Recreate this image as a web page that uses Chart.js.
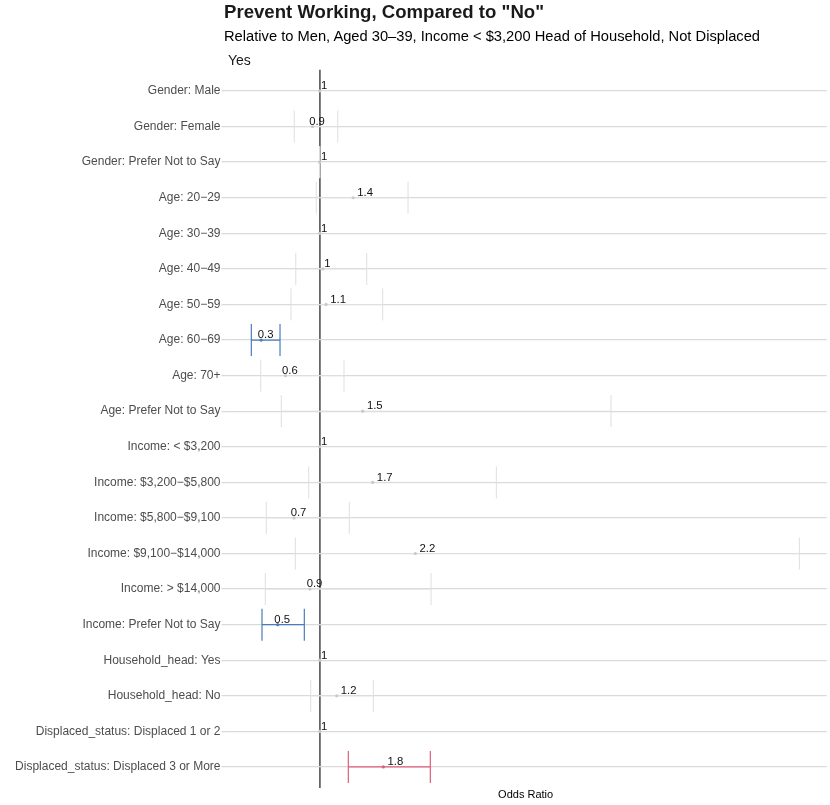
<!DOCTYPE html>
<html><head><meta charset="utf-8">
<script src="https://cdn.jsdelivr.net/npm/chart.js@4.4.1/dist/chart.umd.min.js"></script>
<style>
html,body{margin:0;padding:0;background:#fff;}
#wrap{position:relative;width:830px;height:805px;font-family:"Liberation Sans",Arial,Helvetica,sans-serif;}
#c{position:absolute;left:0;top:0;}
.t{position:absolute;white-space:nowrap;color:#000;}
</style></head><body>
<div id="wrap">
<canvas id="c" width="830" height="805"></canvas>
<div class="t" style="left:224px;top:3px;font-size:18.6px;line-height:18px;font-weight:bold;color:#1a1a1a;">Prevent Working, Compared to "No"</div>
<div class="t" style="left:224px;top:29px;font-size:14.7px;line-height:14px;">Relative to Men, Aged 30–39, Income &lt; $3,200 Head of Household, Not Displaced</div>
<div class="t" style="left:228px;top:53px;font-size:14px;line-height:14px;color:#1a1a1a;">Yes</div>
</div>
<script>
const categories = [
  "Gender: Male", "Gender: Female", "Gender: Prefer Not to Say",
  "Age: 20\u221229", "Age: 30\u221239", "Age: 40\u221249", "Age: 50\u221259", "Age: 60\u221269", "Age: 70+", "Age: Prefer Not to Say",
  "Income: < $3,200", "Income: $3,200\u2212$5,800", "Income: $5,800\u2212$9,100", "Income: $9,100\u2212$14,000", "Income: > $14,000", "Income: Prefer Not to Say",
  "Household_head: Yes", "Household_head: No",
  "Displaced_status: Displaced 1 or 2", "Displaced_status: Displaced 3 or More"
];
const estimates = [1, 0.91, 1, 1.42, 1, 1.04, 1.08, 0.265, 0.57, 1.54, 1, 1.665, 0.678, 2.2, 0.878, 0.473, 1, 1.213, 1, 1.798];
const lowerCI  = [null, 0.681, 1, 0.957, null, 0.70, 0.64, 0.142, 0.26, 0.518, null, 0.862, 0.33, 0.694, 0.317, 0.276, null, 0.887, null, 1.359];
const upperCI  = [null, 1.226, 1, 2.108, null, 1.59, 1.79, 0.502, 1.305, 4.655, null, 3.216, 1.371, 7.018, 2.397, 0.807, null, 1.673, null, 2.388];
const referenceValue = 1;

const BLUE = '#4a7cbd', RED = '#dd5f7d', GRAY_BAR = '#dfdfdf', GRAY_PT = '#c9c9c9';
function rowColor(i){
  if (upperCI[i] !== null && upperCI[i] < referenceValue) return BLUE;
  if (lowerCI[i] !== null && lowerCI[i] > referenceValue) return RED;
  return null;
}

const FONT = '"Liberation Sans", Arial, Helvetica, sans-serif';
Chart.defaults.font.family = FONT;

const datasets = [];
datasets.push({
  type: 'scatter',
  data: estimates.map((e, i) => ({x: e, y: i})),
  pointRadius: 1.6,
  pointBorderWidth: 0,
  pointBackgroundColor: estimates.map((e, i) => rowColor(i) || GRAY_PT),
  pointHoverRadius: 1.6
});
categories.forEach((c, i) => {
  if (lowerCI[i] === null) return;
  const col = rowColor(i) || GRAY_BAR;
  datasets.push({
    type: 'line',
    data: [{x: lowerCI[i], y: i}, {x: upperCI[i], y: i}],
    borderColor: col,
    borderWidth: rowColor(i) ? 1.2 : 1,
    pointStyle: 'line',
    pointRotation: 90,
    pointRadius: 16,
    pointHoverRadius: 16,
    pointBorderColor: col,
    pointBorderWidth: rowColor(i) ? 1.2 : 1,
    fill: false
  });
});

const labelPlugin = {
  id: 'estLabels',
  afterDatasetsDraw(chart) {
    const {ctx, scales: {x, y}} = chart;
    ctx.save();
    ctx.font = '11.3px ' + FONT;
    ctx.fillStyle = '#111';
    ctx.textAlign = 'center';
    ctx.textBaseline = 'alphabetic';
    estimates.forEach((e, i) => {
      const r = Math.round(e * 10) / 10;
      const px = x.getPixelForValue(e) + (r > 1 ? 12 : 4.5);
      const py = y.getPixelForValue(i) - 1.7;
      ctx.fillText(String(r), px, py);
    });
    ctx.restore();
  }
};

new Chart(document.getElementById('c'), {
  data: {datasets},
  options: {
    responsive: false,
    animation: false,
    events: [],
    layout: {autoPadding: false, padding: {top: 69.65, right: 3.3, bottom: 0, left: 0}},
    plugins: {legend: {display: false}, tooltip: {enabled: false}},
    scales: {
      x: {
        type: 'linear',
        min: -0.1945,
        max: 7.361,
        afterBuildTicks: s => { s.ticks = [{value: referenceValue}]; },
        afterFit: s => { s.height = 16.7; },
        ticks: {display: false},
        grid: {color: '#666666', lineWidth: 1.8, drawTicks: false},
        border: {display: false},
        title: {display: true, text: 'Odds Ratio', color: '#000', font: {size: 11}, padding: {top: 0, bottom: 3}}
      },
      y: {
        type: 'linear',
        reverse: true,
        min: -0.6,
        max: categories.length - 0.4,
        afterBuildTicks: s => { s.ticks = categories.map((c, i) => ({value: i})); },
        afterFit: s => { s.width = 224.5; },
        ticks: {
          autoSkip: false,
          callback: v => categories[v],
          color: '#4d4d4d',
          font: {size: 12},
          padding: 1
        },
        grid: {color: '#dadada', lineWidth: 1.3, tickLength: 3, drawTicks: true},
        border: {display: false}
      }
    }
  },
  plugins: [labelPlugin]
});
</script>
</body></html>
